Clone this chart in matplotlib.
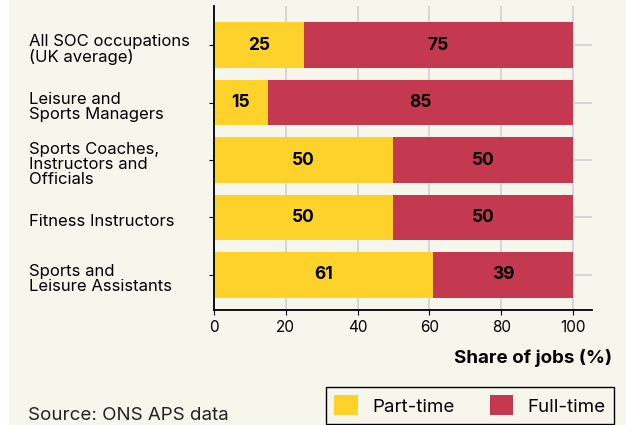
import matplotlib.pyplot as plt
from matplotlib.patches import Patch, Rectangle
from matplotlib.transforms import ScaledTranslation

# data
categories = [
    "All SOC occupations\n(UK average)",
    "Leisure and\nSports Managers",
    "Sports Coaches,\nInstructors and\nOfficials",
    "Fitness Instructors",
    "Sports and\nLeisure Assistants",
]
part_time = [25, 15, 50, 50, 61]
full_time = [75, 85, 50, 50, 39]
xticks = [0, 20, 40, 60, 80, 100]

BG = "#f7f6ec"
YELLOW = "#fcd22b"
RED = "#c4394f"

plt.rcParams["font.family"] = ["Inter", "DejaVu Sans"]

W, H = 626, 425
fig = plt.figure(figsize=(W / 100, H / 100), dpi=100, facecolor="white")
fig.patches.append(Rectangle((9 / W, 0), 1, 1, transform=fig.transFigure,
                             facecolor=BG, edgecolor="none", zorder=-10))

ax = fig.add_axes([214 / W, 1 - 310 / H, (592 - 214) / W, (310 - 6) / H])
ax.set_facecolor(BG)

y = list(range(len(categories)))
ax.barh(y, part_time, height=0.79, color=YELLOW, zorder=2)
ax.barh(y, full_time, left=part_time, height=0.79, color=RED, zorder=2)

for i, (p, f) in enumerate(zip(part_time, full_time)):
    ax.text(p / 2, i, str(p), ha="center", va="center", fontsize=12.5,
            fontweight="bold", color="black", zorder=3)
    ax.text(p + f / 2, i, str(f), ha="center", va="center", fontsize=12.5,
            fontweight="bold", color="black", zorder=3)

ax.set_xlim(0, 105.3)
ax.set_ylim(4.61, -0.68)
ax.set_xticks(xticks)
ax.set_yticks(y)
ax.set_yticklabels(categories, ha="left", fontsize=12, linespacing=0.98)
ax.tick_params(axis="y", pad=130, length=3.5)
ax.tick_params(axis="x", labelsize=11, length=3.5, pad=4)
# labels sit a few pixels below their ticks in the original
shift = ScaledTranslation(0, -3 / 100, fig.dpi_scale_trans)
for lab in ax.get_yticklabels():
    lab.set_transform(lab.get_transform() + shift)
ax.grid(True, color="#d0d0d0", linewidth=1.2, zorder=0)
ax.set_axisbelow(True)
for s in ["top", "right"]:
    ax.spines[s].set_visible(False)
for s in ["left", "bottom"]:
    ax.spines[s].set_linewidth(1.3)

fig.text(612 / W, 1 - 358 / H, "Share of jobs (%)", ha="right", va="center",
         fontsize=13.5, fontweight="bold")

handles = [Patch(facecolor=YELLOW, label="Part-time"),
           Patch(facecolor=RED, label="Full-time")]
fig.legend(handles=handles, loc="upper right", bbox_to_anchor=(614 / W, 1 - 387 / H),
           borderaxespad=0, ncol=2, frameon=True, fancybox=False, edgecolor="black",
           facecolor=BG, fontsize=13.5, handlelength=1.25, handleheight=1.25,
           handletextpad=0.75, columnspacing=1.9, borderpad=0.45, framealpha=1)

fig.text(28 / W, 1 - 415 / H, "Source: ONS APS data", ha="left", va="center",
         fontsize=13.5, color="#222222")

fig.savefig("out.png", dpi=100, facecolor=fig.get_facecolor())
